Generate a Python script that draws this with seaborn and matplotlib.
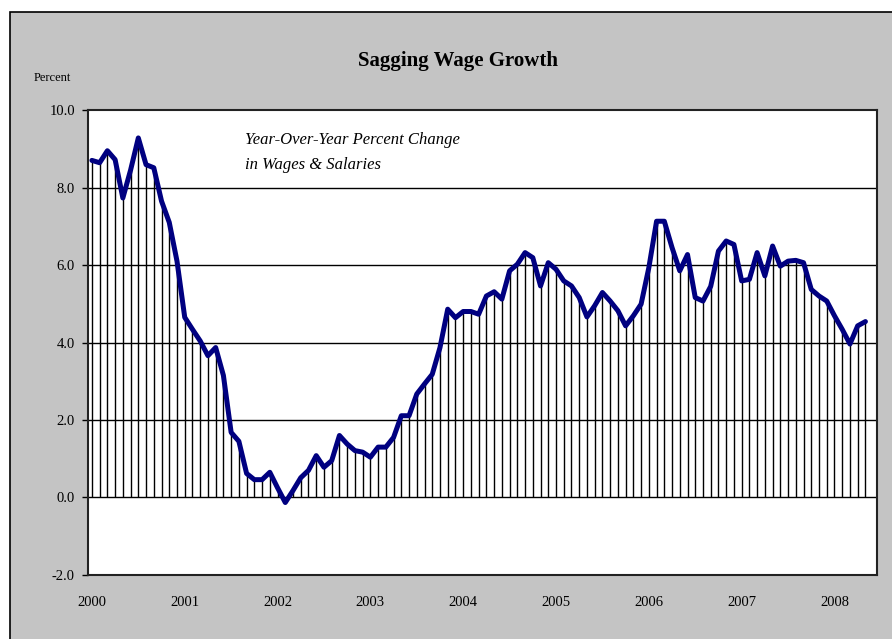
import numpy as np
import pandas as pd
import matplotlib
matplotlib.use("Agg")
import matplotlib.pyplot as plt
from matplotlib.patches import Rectangle
import seaborn as sns

# Year-over-year % change in wages & salaries, monthly Jan 2000 - May 2008
wage_growth = [
    8.70, 8.64, 8.95, 8.72, 7.73, 8.45, 9.28, 8.59, 8.51, 7.65, 7.10, 6.10,   # 2000
    4.65, 4.34, 4.04, 3.66, 3.87, 3.15, 1.68, 1.45, 0.62, 0.46, 0.46, 0.65,   # 2001
    0.25, -0.13, 0.18, 0.51, 0.70, 1.08, 0.78, 0.95, 1.60, 1.38, 1.21, 1.17,  # 2002
    1.04, 1.30, 1.30, 1.55, 2.11, 2.11, 2.67, 2.93, 3.18, 3.87, 4.86, 4.64,   # 2003
    4.80, 4.80, 4.73, 5.20, 5.31, 5.12, 5.85, 6.02, 6.32, 6.19, 5.46, 6.06,   # 2004
    5.89, 5.59, 5.46, 5.16, 4.66, 4.95, 5.29, 5.07, 4.82, 4.43, 4.69, 4.99,   # 2005
    5.93, 7.13, 7.13, 6.45, 5.85, 6.27, 5.16, 5.07, 5.45, 6.36, 6.62, 6.53,   # 2006
    5.59, 5.63, 6.32, 5.72, 6.49, 5.97, 6.10, 6.12, 6.06, 5.37, 5.20, 5.07,   # 2007
    4.69, 4.34, 3.96, 4.43, 4.54,                                             # 2008
]
year_labels = ["2000", "2001", "2002", "2003", "2004", "2005", "2006", "2007", "2008"]
y_ticks = [-2.0, 0.0, 2.0, 4.0, 6.0, 8.0, 10.0]

df = pd.DataFrame({"month": np.arange(len(wage_growth)), "pct": wage_growth})

sns.set_style("white")
plt.rcParams["font.family"] = ["Liberation Serif", "DejaVu Serif"]
plt.rcParams["text.color"] = "black"
plt.rcParams["xtick.color"] = "black"
plt.rcParams["ytick.color"] = "black"

fig = plt.figure(figsize=(8.92, 6.39), dpi=100, facecolor="white")
# gray chart area with black border (behind the axes)
bg = Rectangle((0.011, -0.1), 1.2, 1.081, transform=fig.transFigure,
               facecolor="#c4c4c4", edgecolor="black", lw=1.2, zorder=-10)
fig.add_artist(bg)

ax = fig.add_axes([0.0987, 0.1002, 0.8845, 0.7276])
ax.set_facecolor("white")

# horizontal gridlines
for yv in y_ticks[1:-1]:
    ax.axhline(yv, color="black", lw=1.0, zorder=1)

# drop lines from zero to each month
ax.vlines(df["month"], 0, df["pct"], color="black", lw=1.0, zorder=2)

sns.lineplot(data=df, x="month", y="pct", ax=ax, color="#000080", lw=3.6, zorder=3)

ax.set_xlim(-0.5, 101.5)
ax.set_ylim(-2, 10)
ax.set_yticks(y_ticks)
ax.set_yticklabels([f"{v:.1f}" for v in y_ticks], fontsize=10.5)
ax.set_xticks(np.arange(len(year_labels)) * 12)
ax.set_xticklabels(year_labels, fontsize=10.5)
ax.tick_params(axis="y", direction="out", length=4.5, width=1, pad=5, left=True)
ax.tick_params(axis="x", length=0, pad=15)
ax.set_xlabel("")
ax.set_ylabel("")

for s in ax.spines.values():
    s.set_color("#222222")
    s.set_linewidth(1.5)

fig.text(0.513, 0.905, "Sagging Wage Growth", ha="center", va="center",
         fontsize=15, fontweight="bold")
fig.text(0.038, 0.878, "Percent", ha="left", va="center", fontsize=9)

ax.text(0.199, 0.935, "Year-Over-Year Percent Change", transform=ax.transAxes,
        ha="left", va="center", fontsize=12, style="italic")
ax.text(0.199, 0.882, "in Wages & Salaries", transform=ax.transAxes,
        ha="left", va="center", fontsize=12, style="italic")

fig.savefig("out.png", dpi=100, facecolor="white")
